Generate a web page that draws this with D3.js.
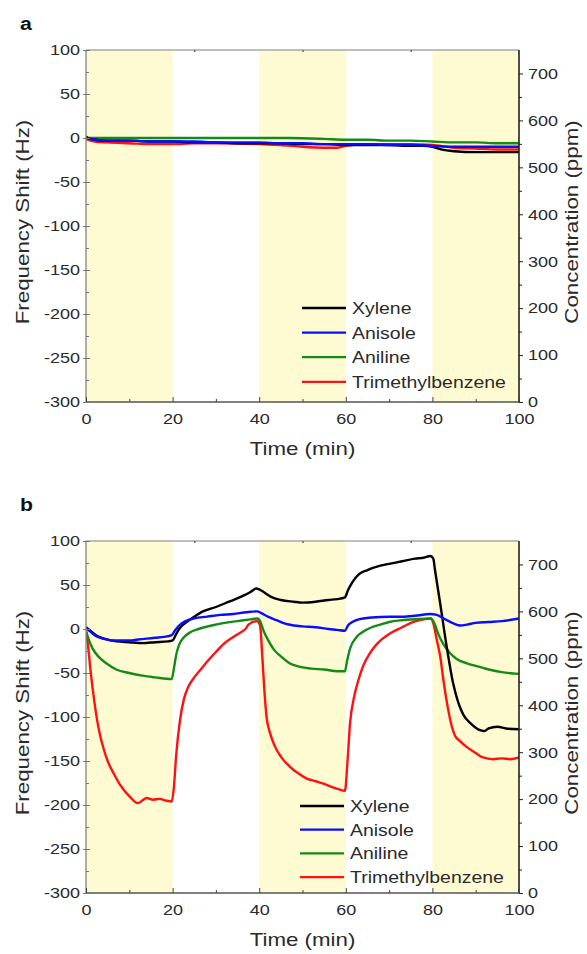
<!DOCTYPE html>
<html>
<head>
<meta charset="utf-8">
<script src="https://cdn.jsdelivr.net/npm/d3@7"></script>
<style>
  body { margin: 0; background: #fff; }
  svg text { font-family: "Liberation Sans", Arial, sans-serif; }
</style>
</head>
<body>
<svg width="587" height="954"></svg>
<script>
// ---- data ----
var seriesNames = ["Xylene", "Anisole", "Aniline", "Trimethylbenzene"];
var seriesColors = ["#000000", "#0b0bff", "#158a15", "#ff1111"];
var exposureWindows = [[0, 20], [40, 60], [80, 100]];   // shaded (gas on) periods, min
var xTicks = [0, 20, 40, 60, 80, 100];
var xMinorTicks = [10, 30, 50, 70, 90];
var topTicks = [25, 50, 75];
var yTicks = [-300, -250, -200, -150, -100, -50, 0, 50, 100];
var yMinorTicks = [-275, -225, -175, -125, -75, -25, 25, 75];
var concTicks = [0, 100, 200, 300, 400, 500, 600, 700];
var concMinorTicks = [50, 150, 250, 350, 450, 550, 650];

// panel a : [time (min), frequency shift (Hz)]
var xyleneA = [[0,2],[0.5,0],[2,-2],[5,-3],[10,-3],[15,-4],[20,-4],[25,-5],[30,-5],[35,-6],[40,-6],[45,-6],[50,-7],[55,-7],[60,-8],[65,-8],[70,-8],[75,-9],[78,-9],[80,-10],[82,-13],[85,-15],[90,-16],[95,-16],[100,-16]];
var anisoleA = [[0,0],[2,-2],[5,-3],[10,-3],[15,-4],[20,-4],[25,-4],[30,-5],[35,-5],[40,-5],[45,-6],[50,-6],[55,-7],[60,-7],[65,-7],[70,-8],[75,-8],[80,-9],[85,-10],[90,-10],[95,-10],[100,-10]];
var anilineA = [[0,0],[5,0],[10,0],[20,0],[30,0],[40,0],[47,0],[55,-1],[60,-2],[65,-2],[70,-3],[75,-3],[80,-4],[85,-5],[90,-5],[95,-6],[100,-6]];
var tmbA = [[0,-1],[2,-4],[5,-5],[10,-6],[15,-7],[20,-7],[25,-6],[30,-6],[40,-7],[45,-8],[50,-10],[55,-11],[58,-11],[60,-9],[65,-7],[70,-7],[75,-7],[80,-8],[85,-11],[90,-12],[95,-13],[100,-13]];

// panel b
var xyleneB = [[0,2],[1,-2],[2,-6],[3,-9],[5,-12],[7,-14],[10,-15],[13,-16],[16,-15],[19,-14],[20,-13],[20.8,-6],[21.5,0],[23,7],[25,14],[27,20],[30,25],[33,31],[36,37],[38,42],[39.3,46],[40,45],[41,42],[43,36],[45,33],[48,31],[50,30],[53,31],[56,33],[58,34],[59.8,36],[60.5,44],[61.5,53],[63,62],[65,67],[68,72],[70,74],[73,77],[76,80],[78,81],[79.5,83],[80.2,80],[80.6,67],[81.8,29],[83.3,-20],[84.8,-62],[86,-84],[87.1,-97],[89,-108],[91,-115],[92,-116],[93,-113],[95,-111],[97,-113],[100,-114]];
var anisoleB = [[0,1],[1,-3],[2,-7],[4,-11],[6,-13],[8,-13],[10,-13],[12,-12],[14,-11],[16,-10],[18,-9],[19.8,-7],[20.5,-2],[21.5,4],[23,9],[25,12],[28,14],[31,16],[34,17],[37,19],[39.5,20],[40.5,18],[42,14],[44,10],[46,6],[48,4],[50,3],[53,2],[56,0],[58,-1],[59.8,-2],[60.5,4],[61.5,8],[63,11],[66,13],[70,14],[73,14],[76,15],[79.5,17],[81,16],[83,11],[85,6],[86.5,4],[88,5],[90,7],[93,8],[96,9],[100,12]];
var anilineB = [[0,-2],[0.5,-10],[1.5,-22],[3,-32],[5,-40],[7,-46],[10,-50],[13,-53],[16,-55],[19.8,-57],[20.3,-45],[20.8,-30],[21.5,-18],[22.5,-10],[24,-4],[26,0],[29,4],[32,7],[35,9],[38,11],[39.6,12],[40.3,8],[41,-2],[42,-12],[43.5,-24],[45,-31],[47,-39],[49.4,-43],[52,-45],[55,-46],[58,-48],[59.8,-48],[60.3,-36],[61,-22],[62.5,-9],[64,-3],[66,2],[68,5],[70,8],[73,10],[76,11],[79.6,12],[80.5,6],[81.3,-5],[82.5,-17],[84,-27],[85.6,-34],[88,-39],[90,-42],[93,-46],[96,-49],[100,-51]];
var tmbB = [[0,-3],[0.5,-20],[1,-45],[2,-85],[3,-115],[4,-135],[5,-150],[6.5,-165],[8,-178],[10,-190],[12,-198],[13,-195],[14,-192],[15.5,-194],[17,-193],[18.5,-195],[19.8,-196],[20.3,-180],[20.8,-145],[21.7,-104],[22.6,-80],[23.6,-66],[25,-55],[26.5,-46],[28,-37],[30.2,-25],[32,-16],[34,-9],[36,-3],[37,1],[37.5,5],[39.5,9],[40.2,4],[40.7,-30],[41.2,-70],[41.7,-100],[42.5,-118],[43.5,-132],[45,-145],[47,-156],[49,-164],[51,-170],[53,-173],[55,-176],[57,-180],[59,-183],[59.8,-184],[60.4,-150],[61,-106],[61.8,-80],[62.8,-60],[64,-42],[65.5,-28],[67,-18],[68.5,-11],[70.2,-5],[73,2],[75.6,8],[78,11],[79.6,12],[80.3,5],[81,-12],[81.8,-31],[82.6,-60],[83.3,-82],[84.2,-105],[85.2,-121],[86.5,-128],[87.9,-134],[90,-141],[91.7,-146],[94,-148],[96,-147],[98,-148],[100,-146]];

// ---- layout ----
var svg = d3.select("svg");
var left = 86, W = 433, H = 352;
var shade = "#fefbd3";
var textColor = "#2a2a2a";
var plainNum = function (d) { return String(d); };   // hyphen minus like the original

var panels = [
  { label: "a", top: 50, labelY: 30, data: [xyleneA, anisoleA, anilineA, tmbA], legendTop: 258, legendStep: 24.6, legendX: 216 },
  { label: "b", top: 541, labelY: 511, data: [xyleneB, anisoleB, anilineB, tmbB], legendTop: 265, legendStep: 23.7, legendX: 214 }
];

function stretched(parent, x, y, str, size, sx, rot) {
  var t = parent.append("g")
    .attr("transform", "translate(" + x + "," + y + ")" + (rot ? " rotate(" + rot + ")" : "") + " scale(" + sx + ",1)")
    .append("text")
    .attr("font-size", size)
    .attr("fill", textColor)
    .text(str);
  return t;
}

function styleAxis(sel, size, sx) {
  sel.select(".domain").remove();
  sel.attr("font-family", null).attr("font-size", null);
  sel.selectAll("text").attr("font-size", size).attr("fill", textColor).attr("transform", "scale(" + sx + ",1)");
}

panels.forEach(function (p, pi) {
  var g = svg.append("g").attr("transform", "translate(" + left + "," + p.top + ")");

  var x = d3.scaleLinear().domain([0, 100]).range([0, W]);
  var y = d3.scaleLinear().domain([-300, 100]).range([H, 0]);
  var y2 = d3.scaleLinear().domain([0, 750]).range([H, 0]);

  // shaded exposure windows
  g.selectAll(".win")
    .data(exposureWindows)
    .enter().append("rect")
    .attr("class", "win")
    .attr("x", function (d) { return x(d[0]); })
    .attr("width", function (d) { return x(d[1]) - x(d[0]); })
    .attr("y", 0)
    .attr("height", H)
    .attr("fill", shade);

  g.append("clipPath").attr("id", "clip" + pi)
    .append("rect").attr("width", W).attr("height", H);

  var line = d3.line()
    .x(function (d) { return x(d[0]); })
    .y(function (d) { return y(d[1]); })
    .curve(d3.curveMonotoneX);

  // red first, then green, black, blue on top
  [3, 2, 0, 1].forEach(function (i) {
    g.append("path")
      .datum(p.data[i])
      .attr("clip-path", "url(#clip" + pi + ")")
      .attr("fill", "none")
      .attr("stroke", seriesColors[i])
      .attr("stroke-width", 2.4)
      .attr("stroke-linejoin", "round")
      .attr("d", line);
  });

  // frame
  g.append("line").attr("x1", 0).attr("x2", W).attr("y1", 0).attr("y2", 0).attr("stroke", "#a8a8a8").attr("stroke-width", 1.3);
  g.append("line").attr("x1", 0).attr("x2", 0).attr("y1", 0).attr("y2", H).attr("stroke", "#8a8a8a").attr("stroke-width", 1.4);
  g.append("line").attr("x1", 0).attr("x2", W).attr("y1", H).attr("y2", H).attr("stroke", "#555").attr("stroke-width", 1.5);
  g.append("line").attr("x1", W).attr("x2", W).attr("y1", 0).attr("y2", H).attr("stroke", "#222").attr("stroke-width", 1.6);

  // left axis
  var gl = g.append("g").call(d3.axisLeft(y).tickValues(yTicks).tickFormat(plainNum).tickSizeInner(4).tickSizeOuter(0).tickPadding(1));
  styleAxis(gl, 15, 1.2);
  gl.selectAll("line").attr("x2", 4).attr("x1", -3).attr("stroke", "#777");
  var glm = g.append("g").call(d3.axisLeft(y).tickValues(yMinorTicks).tickSize(-3).tickFormat(""));
  styleAxis(glm, 15, 1);
  glm.selectAll("line").attr("stroke", "#777");

  // bottom axis
  var gb = g.append("g").attr("transform", "translate(0," + H + ")")
    .call(d3.axisBottom(x).tickValues(xTicks).tickFormat(plainNum).tickSize(-5).tickPadding(11));
  styleAxis(gb, 15, 1.2);
  gb.selectAll("line").attr("stroke", "#444");
  var gbm = g.append("g").attr("transform", "translate(0," + H + ")")
    .call(d3.axisBottom(x).tickValues(xMinorTicks).tickSize(-3).tickFormat(""));
  styleAxis(gbm, 15, 1);
  gbm.selectAll("line").attr("stroke", "#444");

  // top axis
  var gt = g.append("g").call(d3.axisTop(x).tickValues(topTicks).tickSize(-2).tickFormat(""));
  styleAxis(gt, 15, 1);
  gt.selectAll("line").attr("stroke", "#666").attr("stroke-width", 1.5);

  // right axis (concentration)
  var gr = g.append("g").attr("transform", "translate(" + W + ",0)")
    .call(d3.axisRight(y2).tickValues(concTicks).tickFormat(plainNum).tickSize(4).tickPadding(3.5));
  styleAxis(gr, 15, 1.2);
  gr.selectAll("line").attr("stroke", "#222");
  var grm = g.append("g").attr("transform", "translate(" + W + ",0)")
    .call(d3.axisRight(y2).tickValues(concMinorTicks).tickSize(3).tickFormat(""));
  styleAxis(grm, 15, 1);
  grm.selectAll("line").attr("stroke", "#222");

  // axis titles
  stretched(g, -57, H / 2 - 4, "Frequency Shift (Hz)", 18, 1.24, -90).attr("text-anchor", "middle");
  stretched(g, 578 - left, H / 2 - 4, "Concentration (ppm)", 18, 1.24, -90).attr("text-anchor", "middle");
  stretched(g, W / 2, H + 53, "Time (min)", 18, 1.24).attr("text-anchor", "middle");

  // panel label
  stretched(svg, 20, p.labelY, p.label, 19, 1.12).attr("font-weight", "bold").attr("fill", "#111");

  // legend
  var lg = g.append("g").attr("transform", "translate(" + p.legendX + "," + p.legendTop + ")");
  seriesNames.forEach(function (name, i) {
    var row = lg.append("g").attr("transform", "translate(0," + i * p.legendStep + ")");
    row.append("line").attr("x1", 0).attr("x2", 44).attr("y1", 0).attr("y2", 0)
      .attr("stroke", seriesColors[i]).attr("stroke-width", 2.3);
    stretched(row, 50, 0, name, 16.5, 1.18).attr("dy", "0.36em");
  });
});
</script>
</body>
</html>
